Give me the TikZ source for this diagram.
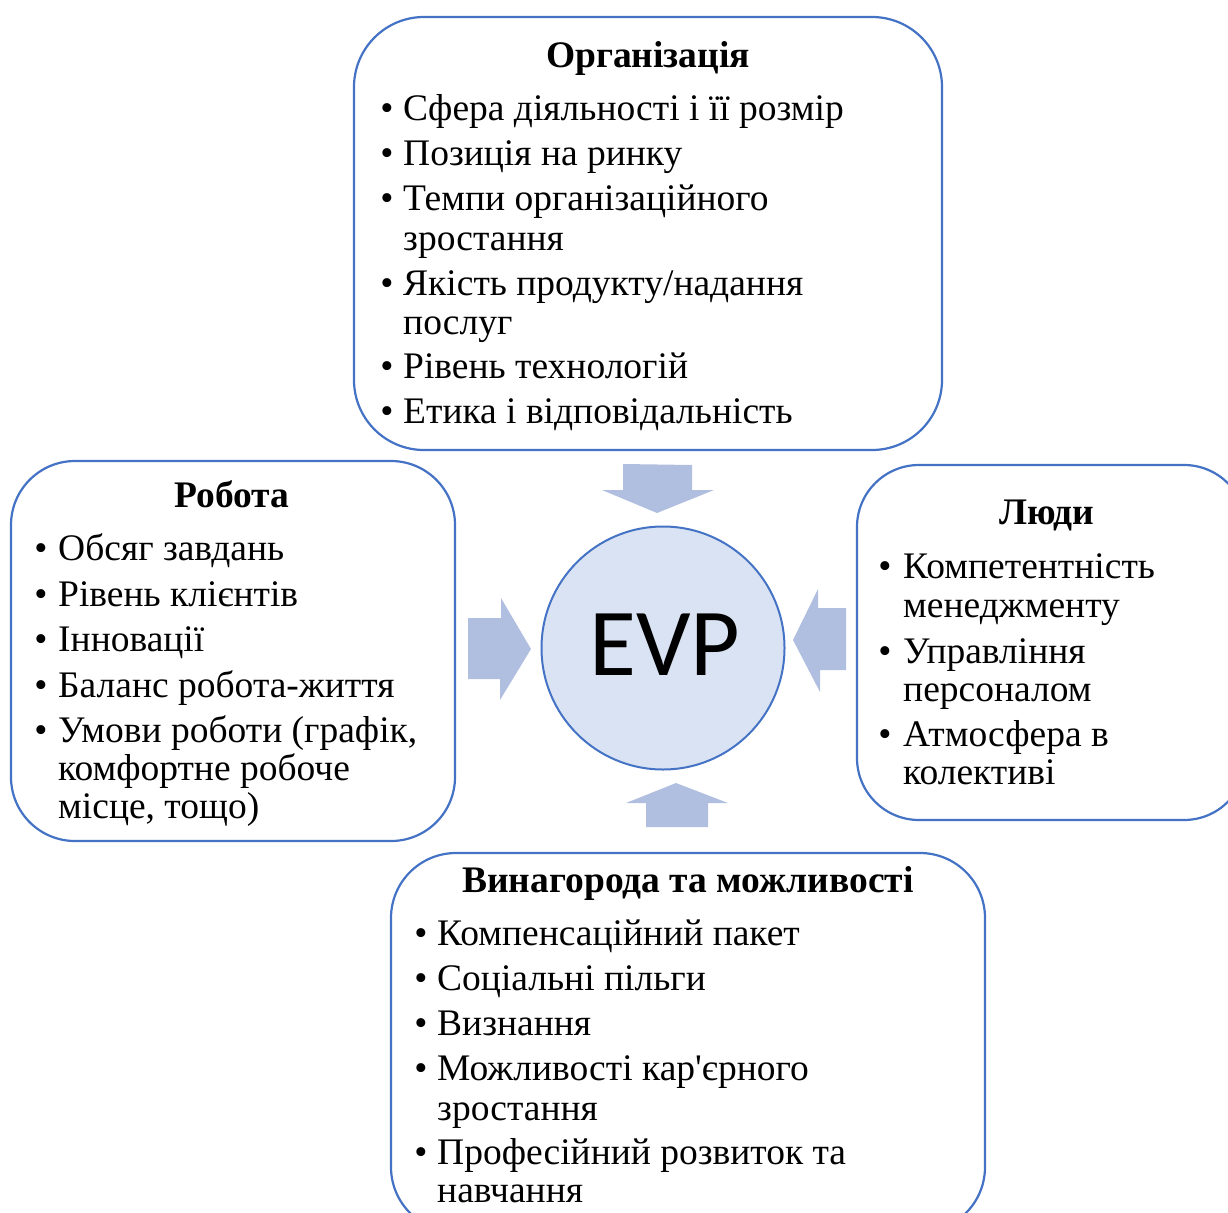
\documentclass[tikz,border=0pt]{standalone}
\usepackage{fontspec}
\setmainfont{Liberation Serif}
\newfontfamily\evpfont{Carlito}
\definecolor{bordblue}{HTML}{4472C4}
\definecolor{circfill}{HTML}{DAE3F3}
\definecolor{arrfill}{HTML}{B0BEDF}
\begin{document}
\begin{tikzpicture}[x=1pt,y=-1pt,
  box/.style={draw=bordblue, line width=2.2pt, fill=white},
  ttl/.style={anchor=base, inner sep=0pt, yshift=-1.5pt, font=\fontsize{37.5}{42}\selectfont\bfseries},
  itm/.style={anchor=base west, inner sep=0pt, yshift=-1.5pt, font=\fontsize{37.5}{42}\selectfont},
  blt/.style={anchor=base, inner sep=0pt, yshift=-1.5pt, font=\fontsize{37.5}{42}\selectfont},
  arr/.style={fill=arrfill, draw=none}]
\useasboundingbox (0,0) rectangle (1228,1212);
\clip (0,0) rectangle (1228,1212);
% boxes
\draw[box, rounded corners=70pt] (354,17) rectangle (942,450);
\draw[box, rounded corners=64pt] (11,461) rectangle (455,841);
\draw[box, rounded corners=62pt] (857,465) rectangle (1246,820);
\draw[box, rounded corners=65pt] (391,853) rectangle (985,1232);
% centre
\node[circle, draw=bordblue, line width=2pt, fill=circfill, minimum size=243pt, inner sep=0pt] (evp) at (663,648) {};
\node[anchor=base, inner sep=0pt, font=\evpfont\fontsize{96}{100}\selectfont] (evpt) at (665,675) {EVP};
% arrows
\fill[arr] (623,464) -- (692,465) -- (692,490) -- (714,490) -- (657,513) -- (602,490) -- (623,490) -- cycle;
\fill[arr] (468,618) -- (501,618) -- (501,598) -- (531,649) -- (500,700) -- (500,679) -- (468,679) -- cycle;
\fill[arr] (846,608) -- (818,608) -- (818,589) -- (793,640) -- (820,692) -- (820,670) -- (846,670) -- cycle;
\fill[arr] (646,827) -- (646,803) -- (626,803) -- (676,783) -- (728,803) -- (708,803) -- (708,827) -- cycle;
% top box
\node[ttl] (t0) at (648,66) {Організація};
\foreach \n/\y in {1/119,2/164,3/209,5/294,7/377,8/422} \node[blt] (tb\n) at (387,\y) {•};
\node[itm] (t1) at (403,119) {Сфера діяльності і її розмір};
\node[itm] (t2) at (403,164) {Позиція на ринку};
\node[itm] (t3) at (403,209) {Темпи організаційного};
\node[itm] (t4) at (403,249) {зростання};
\node[itm] (t5) at (403,294) {Якість продукту/надання};
\node[itm] (t6) at (403,333) {послуг};
\node[itm] (t7) at (403,377) {Рівень технологій};
\node[itm] (t8) at (403,422) {Етика і відповідальність};
% left box
\node[ttl] (l0) at (232,506) {Робота};
\foreach \n/\y in {1/559,2/605,3/650,4/696,5/741} \node[blt] (lb\n) at (41,\y) {•};
\node[itm] (l1) at (58,559) {Обсяг завдань};
\node[itm] (l2) at (58,605) {Рівень клієнтів};
\node[itm] (l3) at (58,650) {Інновації};
\node[itm] (l4) at (58,696) {Баланс робота-життя};
\node[itm] (l5) at (58,741) {Умови роботи (графік,};
\node[itm] (l6) at (58,779) {комфортне робоче};
\node[itm] (l7) at (58,817) {місце, тощо)};
% right box
\node[ttl] (r0) at (1047,523) {Люди};
\foreach \n/\y in {1/577,3/662,5/745} \node[blt] (rb\n) at (885,\y) {•};
\node[itm] (r1) at (903,577) {Компетентність};
\node[itm] (r2) at (903,616) {менеджменту};
\node[itm] (r3) at (903,662) {Управління};
\node[itm] (r4) at (903,700) {персоналом};
\node[itm] (r5) at (903,745) {Атмосфера в};
\node[itm] (r6) at (903,783) {колективі};
% bottom box
\node[ttl] (b0) at (688,891) {Винагорода та можливості};
\foreach \n/\y in {1/944,2/989,3/1034,4/1079,6/1163} \node[blt] (bb\n) at (421,\y) {•};
\node[itm] (b1) at (437,944) {Компенсаційний пакет};
\node[itm] (b2) at (437,989) {Соціальні пільги};
\node[itm] (b3) at (437,1034) {Визнання};
\node[itm] (b4) at (437,1079) {Можливості кар\textquotesingle єрного};
\node[itm] (b5) at (437,1119) {зростання};
\node[itm] (b6) at (437,1163) {Професійний розвиток та};
\node[itm] (b7) at (437,1201) {навчання};
\end{tikzpicture}
\end{document}
